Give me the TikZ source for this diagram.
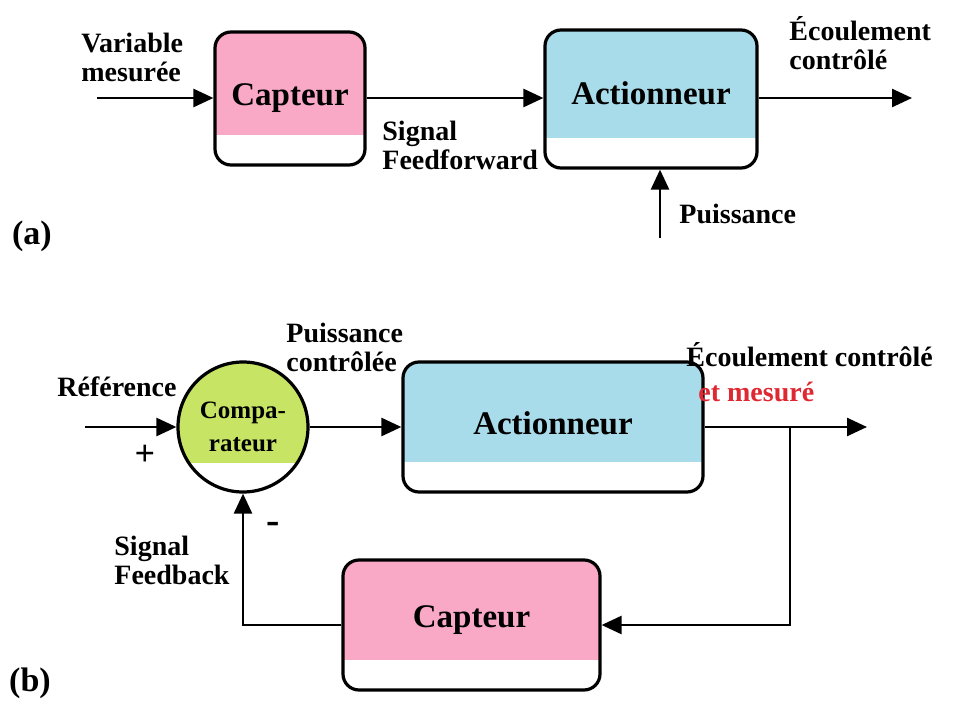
\documentclass[tikz,border=0pt]{standalone}
\usepackage{fontspec}
\setmainfont{Liberation Serif}
\usepackage{tikz}
\usetikzlibrary{arrows.meta}
\usetikzlibrary{positioning}
\usetikzlibrary{calc}
\definecolor{capPink}{RGB}{249,168,198}
\definecolor{actBlue}{RGB}{168,220,234}
\definecolor{cmpGreen}{RGB}{200,228,100}
\definecolor{redTxt}{RGB}{222,40,50}
\tikzset{blockbox/.style={draw, line width=1.6pt, rounded corners=8pt, inner sep=0pt,
  font=\fontsize{16.5}{18}\selectfont\bfseries,
  path picture={\fill[white, sharp corners] (path picture bounding box.south west) rectangle ([yshift=#1]path picture bounding box.south east);}}}
\tikzset{capBox/.style={blockbox=15pt, fill=capPink}}
\tikzset{actBox/.style={blockbox=15pt, fill=actBlue}}
\tikzset{cmpCirc/.style={draw, circle, line width=1.6pt, fill=cmpGreen, minimum size=65pt, inner sep=0pt,
  align=center, font=\fontsize{12.5}{16.5}\selectfont\bfseries,
  path picture={\fill[white] (path picture bounding box.south west) rectangle ([yshift=14.5pt]path picture bounding box.south east);}}}
\tikzset{sigLine/.style={draw, line width=1.3pt, -{Triangle[length=10pt,width=9pt]}}}
\tikzset{txt/.style={align=left, anchor=west, inner sep=0pt, font=\fontsize{14}{14.5}\selectfont\bfseries}}
\tikzset{tag/.style={inner sep=0pt, font=\fontsize{17}{18}\selectfont\bfseries}}

\begin{document}
\begin{tikzpicture}[x=0.5pt, y=-0.5pt]
\useasboundingbox (0,0) rectangle (960,702);

% (a) feedforward
\node[capBox, minimum width=75pt, minimum height=66.5pt] (capA) at (290,98.5) {\raisebox{3pt}{Capteur}};
\node[actBox, minimum width=106pt, minimum height=69pt] (actA) at (651,99) {\raisebox{5.5pt}{Actionneur}};

\coordinate (inA) at (97,98);
\coordinate (outA) at (912,98);
\coordinate (pwrA) at (660,238);

\draw[sigLine] (inA) -- (inA -| capA.west);
\draw[sigLine] (capA.east |- inA) -- (inA -| actA.west);
\draw[sigLine] (actA.east |- inA) -- (outA);
\draw[sigLine] (pwrA) -- (pwrA |- actA.south);

\node[txt] (varTxt) at (81,57) {Variable\\mesurée};
\node[txt] (ffTxt) at (382,145) {Signal\\Feedforward};
\node[txt] (ecoA) at (789,43) {Écoulement\\contrôlé};
\node[txt] (pwrTxt) at (679,214) {Puissance};
\node[tag] (tagA) at (32,236) {(a)};

% (b) feedback
\node[cmpCirc] (cmp) at (243,427) {Compa-\\rateur};
\node[actBox, minimum width=150pt, minimum height=65pt] (actB) at (553,427) {\raisebox{3.5pt}{Actionneur}};
\node[capBox, minimum width=128.5pt, minimum height=65pt] (capB) at (471.5,625) {\raisebox{8.5pt}{Capteur}};

\coordinate (refIn) at (85,427);
\coordinate (outB) at (867,427);
\coordinate (tap) at (790,427);

\draw[sigLine] (refIn) -- (cmp);
\draw[sigLine] (cmp) -- (actB);
\draw[sigLine] (actB) -- (outB);
\draw[sigLine] (tap) |- (capB);
\draw[sigLine] (capB) -| (cmp);

\node[txt] (refTxt) at (57,387) {Référence};
\node[inner sep=0pt, font=\fontsize{18}{18}\selectfont\bfseries] (plus) at (145,455) {+};
\node[inner sep=0pt, font=\fontsize{20}{20}\selectfont\bfseries] (minus) at (273,528) {-};
\node[txt] (pcTxt) at (286,347) {Puissance\\contrôlée};
\node[txt, font=\fontsize{14}{17.5}\selectfont\bfseries] (ecoB) at (686,372) {Écoulement contrôlé\\\hspace*{6pt}\textcolor{redTxt}{et mesuré}};
\node[txt] (fbTxt) at (114,560) {Signal\\Feedback};
\node[tag] (tagB) at (30,683) {(b)};
\end{tikzpicture}
\end{document}
